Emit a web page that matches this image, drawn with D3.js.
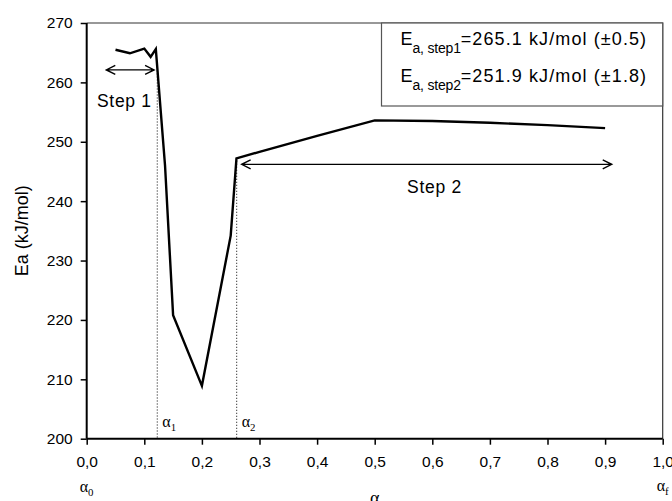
<!DOCTYPE html>
<html>
<head>
<meta charset="utf-8">
<script src="https://cdn.jsdelivr.net/npm/d3@7"></script>
<style>
  html, body { margin: 0; padding: 0; background: #fff; }
  svg { display: block; }
  text { font-family: "Liberation Sans", Arial, sans-serif; fill: #000; }
  .greek { font-family: "Liberation Serif", "Times New Roman", serif; }
</style>
</head>
<body>
<svg id="chart" width="672" height="501"></svg>
<script>
// Conversion (alpha) and apparent activation energy Ea (kJ/mol)
const alpha = [0.05, 0.075, 0.10, 0.111, 0.12, 0.136, 0.15, 0.20, 0.25, 0.26, 0.30, 0.40, 0.50, 0.60, 0.70, 0.80, 0.90];
const ea    = [265.5, 264.9, 265.7, 264.3, 265.6, 246.0, 220.8, 208.9, 234.2, 247.2, 248.3, 251.0, 253.6, 253.5, 253.2, 252.8, 252.3];

// Axis ticks
const xTicks = [0, 0.1, 0.2, 0.3, 0.4, 0.5, 0.6, 0.7, 0.8, 0.9, 1.0];
const yTicks = [200, 210, 220, 230, 240, 250, 260, 270];

// Step boundaries and step ranges
const alpha1 = 0.1225, alpha1Top = 262;
const alpha2 = 0.2604, alpha2Top = 246.8;
const step1Range = [0.034, 0.117], step1Level = 262.1;
const step2Range = [0.269, 0.9115], step2Level = 246.2;

// Activation energies per step
const stepNames = ["step1", "step2"];
const stepEa = ["265.1", "251.9"];
const stepErr = ["0.5", "1.8"];

const svg = d3.select("#chart");
const pLeft = 86.7, pRight = 662.7, pTop = 23, pBottom = 438.7;

const x = d3.scaleLinear().domain([0, 1]).range([pLeft, pRight]);
const y = d3.scaleLinear().domain([200, 270]).range([pBottom, pTop]);

// Frame (top and right)
svg.append("path")
  .attr("d", `M${pLeft},${pTop}H${pRight}V${pBottom}`)
  .attr("fill", "none").attr("stroke", "#333").attr("stroke-width", 1.2);

// Axes
const fmt = d => d3.format(".1f")(d).replace(".", ",");
const xAxis = svg.append("g").attr("transform", `translate(0,${pBottom})`)
  .call(d3.axisBottom(x).tickValues(xTicks).tickFormat(fmt).tickSize(6).tickPadding(11));
const yAxis = svg.append("g").attr("transform", `translate(${pLeft},0)`)
  .call(d3.axisLeft(y).tickValues(yTicks).tickSize(6).tickPadding(8));

[xAxis, yAxis].forEach(g => {
  g.select(".domain").attr("stroke", "#000").attr("stroke-width", 2);
  g.selectAll(".tick line").attr("stroke", "#000").attr("stroke-width", 1.5);
  g.selectAll(".tick text").attr("font-size", 15.5).attr("fill", "#000")
    .style("font-family", '"Liberation Sans", Arial, sans-serif');
});
xAxis.select(".domain").attr("d", `M${pLeft},0H${pRight}`);
yAxis.select(".domain").attr("d", `M0,${pTop}V${pBottom}`);

// Axis titles
svg.append("text")
  .attr("transform", `translate(28,${(pTop + pBottom) / 2}) rotate(-90)`)
  .attr("text-anchor", "middle").attr("font-size", 18)
  .text("Ea (kJ/mol)");
svg.append("text").attr("class", "greek")
  .attr("x", x(0.5)).attr("y", 504).attr("text-anchor", "middle").attr("font-size", 18)
  .text("α");

// Conversion markers below the axis
function alphaLabel(px, py, sub, size) {
  const t = svg.append("text").attr("class", "greek").attr("x", px).attr("y", py).attr("font-size", size);
  t.append("tspan").text("α");
  t.append("tspan").attr("dy", 4).attr("font-size", size * 0.68).text(sub);
}
alphaLabel(x(0) - 7, 492, "0", 16);
alphaLabel(x(1) - 6, 491, "f", 16);

// Boundary lines between steps
[[alpha1, alpha1Top, "1"], [alpha2, alpha2Top, "2"]].forEach(([a, top2, sub]) => {
  svg.append("line")
    .attr("x1", x(a)).attr("x2", x(a)).attr("y1", y(top2)).attr("y2", pBottom)
    .attr("stroke", "#000").attr("stroke-width", 1).attr("stroke-dasharray", "1,2");
  alphaLabel(x(a) + 5, 427, sub, 16);
});

// Ea curve
const line = d3.line().x((d, i) => x(alpha[i])).y((d, i) => y(ea[i]));
svg.append("path").datum(ea)
  .attr("d", line)
  .attr("fill", "none").attr("stroke", "#000").attr("stroke-width", 2.4)
  .attr("stroke-linejoin", "miter");

// Double-headed arrows for the two steps
function doubleArrow(a0, a1, level) {
  const x0 = x(a0), x1 = x(a1), yy = y(level), h = 9, w = 4.5;
  svg.append("path")
    .attr("d", `M${x0},${yy}H${x1}M${x0 + h},${yy - w}L${x0},${yy}L${x0 + h},${yy + w}M${x1 - h},${yy - w}L${x1},${yy}L${x1 - h},${yy + w}`)
    .attr("fill", "none").attr("stroke", "#000").attr("stroke-width", 1.4);
}
doubleArrow(step1Range[0], step1Range[1], step1Level);
doubleArrow(step2Range[0], step2Range[1], step2Level);

svg.append("text").attr("x", 97).attr("y", 106.5).attr("font-size", 17.5)
  .attr("letter-spacing", 0.7).text("Step 1");
svg.append("text").attr("x", 434.5).attr("y", 192.5).attr("font-size", 17.5)
  .attr("text-anchor", "middle").attr("letter-spacing", 0.7).text("Step 2");

// Legend box with step activation energies
const legend = svg.append("g");
legend.append("rect")
  .attr("x", 381.5).attr("y", pTop).attr("width", pRight - 381.5).attr("height", 83)
  .attr("fill", "#fff").attr("stroke", "#555").attr("stroke-width", 1.2);
stepNames.forEach((name, i) => {
  const t = legend.append("text").attr("x", 400.5).attr("y", 45 + i * 37).attr("font-size", 18);
  t.append("tspan").text("E");
  t.append("tspan").attr("font-size", 14).attr("dy", 8).attr("letter-spacing", -0.2).text("a, " + name);
  t.append("tspan").attr("dy", -8).attr("letter-spacing", 1.1)
    .text(`=${stepEa[i]} kJ/mol (±${stepErr[i]})`);
});
</script>
</body>
</html>
